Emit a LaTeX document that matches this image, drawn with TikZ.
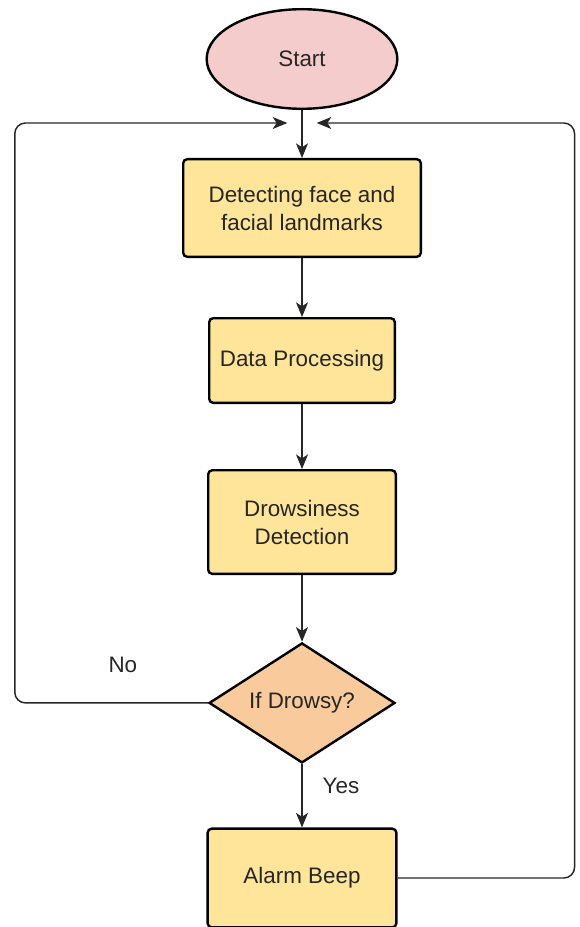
\documentclass[tikz,border=0pt]{standalone}
\usepackage{fontspec}
\setmainfont{Liberation Sans}
\usetikzlibrary{positioning, shapes.geometric, arrows.meta}

\definecolor{startpink}{HTML}{F4CCCC}
\definecolor{boxyellow}{HTML}{FFE599}
\definecolor{decorange}{HTML}{F9CB9C}
\definecolor{inkgray}{HTML}{262626}

\begin{document}
\begin{tikzpicture}[
        x=0.75pt, y=0.75pt,
        every node/.style={font=\fontsize{16.8}{21}\selectfont, text=inkgray},
        startnode/.style={
            ellipse,
            draw=black,
            line width=1.8pt,
            fill=startpink,
            minimum width=143pt,
            minimum height=74.7pt,
            inner sep=0pt
        },
        procbox/.style={
            rectangle,
            rounded corners=3pt,
            draw=black,
            line width=1.8pt,
            fill=boxyellow,
            align=center,
            minimum width=140.7pt,
            inner sep=2pt
        },
        decbox/.style={
            diamond,
            aspect=1.6,
            draw=black,
            line width=1.8pt,
            fill=decorange,
            minimum width=139.5pt,
            minimum height=90pt,
            inner sep=0pt
        },
        link/.style={
            -{Stealth[length=11pt, width=9pt, inset=3pt]},
            line width=1.1pt,
            inkgray
        },
        loop/.style={
            link,
            rounded corners=8pt
        },
        lbl/.style={inner sep=2pt}
    ]

    \useasboundingbox (0,0) rectangle (579,-927);

    % Start
    \node[startnode] (start) at (302,-59) {Start};

    % Steps
    \node[procbox, minimum width=178.2pt, minimum height=73.2pt, below=36pt of start] (detect) {Detecting face and\\facial landmarks};
    \node[procbox, minimum width=139.2pt, minimum height=63.5pt, below=44.25pt of detect] (dataproc) {Data Processing};
    \node[procbox, minimum height=77.7pt, below=48.75pt of dataproc] (drowsy) {Drowsiness\\Detection};

    % Decision
    \node[decbox, below=50pt of drowsy] (ifdrowsy) {If Drowsy?};

    % Alarm
    \node[procbox, minimum width=141.5pt, minimum height=74pt, below=47.5pt of ifdrowsy] (alarm) {Alarm Beep};

    % Merge points above the first step
    \coordinate[below=9.75pt of start] (merge);
    \coordinate[left=11pt of merge] (mergeL);
    \coordinate[right=11pt of merge] (mergeR);

    % Flow
    \draw[link] (start) -- (detect);
    \draw[link] (detect) -- (dataproc);
    \draw[link] (dataproc) -- (drowsy);
    \draw[link] (drowsy) -- (ifdrowsy);
    \draw[link] (ifdrowsy) -- (alarm) node[lbl, pos=0.35, right=13pt] {Yes};

    % Loops back
    \draw[loop] (ifdrowsy.west) -- ++(-193,0) node[lbl, pos=0.44, above=20pt] {No} |- (mergeL);
    \draw[loop] (alarm.east) -- ++(177,0) |- (mergeR);

\end{tikzpicture}
\end{document}
